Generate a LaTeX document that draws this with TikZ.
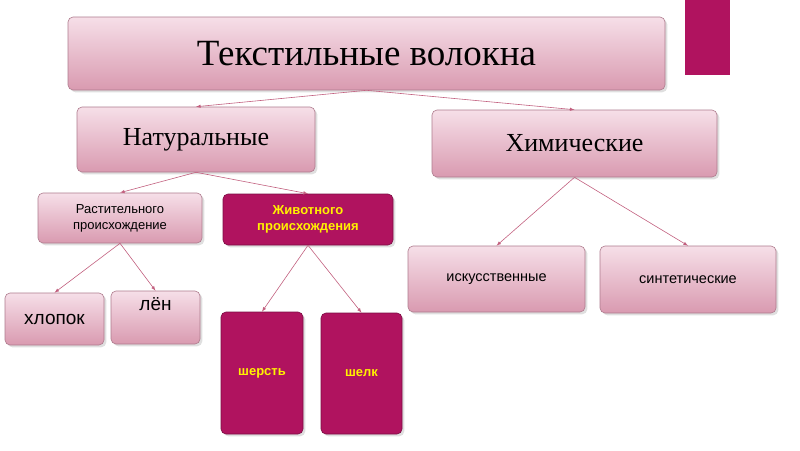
\documentclass[tikz,border=0pt]{standalone}
\usepackage{fontspec}
\setmainfont{Liberation Serif}
\setsansfont{Liberation Sans}
\usetikzlibrary{shadows}
\definecolor{mag}{HTML}{B0135F}
\definecolor{ptop}{HTML}{F6DFE8}
\definecolor{pbot}{HTML}{D99AB0}
\definecolor{lnk}{HTML}{C2607F}
\tikzset{
  pbox/.style={draw=pbot!80!black, line width=0.6pt, rounded corners=5pt, top color=ptop, bottom color=pbot, drop shadow={opacity=0.25}, inner sep=0pt, align=center},
  mbox/.style={draw=mag!70!black, line width=0.6pt, rounded corners=5pt, fill=mag, text=yellow, drop shadow={opacity=0.25}, inner sep=0pt, align=center},
  lk/.style={draw=lnk, line width=0.6pt, ->, >=latex}
}
\begin{document}
\begin{tikzpicture}[x=1pt,y=-1pt]
\useasboundingbox (0,0) rectangle (800,450);
\fill[mag] (685,0) rectangle (730,75);
\node[pbox, minimum width=597pt, minimum height=73pt, font=\fontsize{37}{40}\selectfont] (top) at (366.5,53.5) {Текстильные волокна};
\node[pbox, minimum width=238pt, minimum height=65pt, font=\fontsize{26}{30}\selectfont] (nat) at (196,139.5) {Натуральные};
\node[pbox, minimum width=285pt, minimum height=67pt, font=\fontsize{26}{30}\selectfont] (khim) at (574.5,143.5) {Химические};
\node[pbox, minimum width=164pt, minimum height=50pt, font=\sffamily\fontsize{13}{16}\selectfont] (rast) at (120,218) {Растительного\\происхождение};
\node[mbox, minimum width=170pt, minimum height=51pt, font=\sffamily\bfseries\fontsize{13}{16}\selectfont] (zhiv) at (308,219.5) {Животного\\происхождения};
\node[pbox, minimum width=99pt, minimum height=52pt, font=\sffamily\fontsize{19}{22}\selectfont] (khl) at (54.5,319) {хлопок};
\node[pbox, minimum width=89pt, minimum height=53pt, font=\sffamily\fontsize{19}{22}\selectfont] (len) at (155.5,317.5) {лён\\[6pt]};
\node[mbox, minimum width=82pt, minimum height=122pt, font=\sffamily\bfseries\fontsize{13}{16}\selectfont] (sher) at (262,373) {шерсть};
\node[mbox, minimum width=81pt, minimum height=121pt, font=\sffamily\bfseries\fontsize{13}{16}\selectfont] (shel) at (361.5,373.5) {шелк};
\node[pbox, minimum width=177pt, minimum height=66pt, font=\sffamily\fontsize{14.5}{17}\selectfont] (isk) at (496.5,279) {искусственные};
\node[pbox, minimum width=176pt, minimum height=67pt, font=\sffamily\fontsize{14.5}{17}\selectfont] (sint) at (688,279.5) {синтетические};
\draw[lk] (top.south) -- (nat.north);
\draw[lk] (top.south) -- (khim.north);
\draw[lk] (nat.south) -- (rast.north);
\draw[lk] (nat.south) -- (zhiv.north);
\draw[lk] (rast.south) -- (khl.north);
\draw[lk] (rast.south) -- (len.north);
\draw[lk] (zhiv.south) -- (sher.north);
\draw[lk] (zhiv.south) -- (shel.north);
\draw[lk] (khim.south) -- (isk.north);
\draw[lk] (khim.south) -- (sint.north);
\end{tikzpicture}
\end{document}
